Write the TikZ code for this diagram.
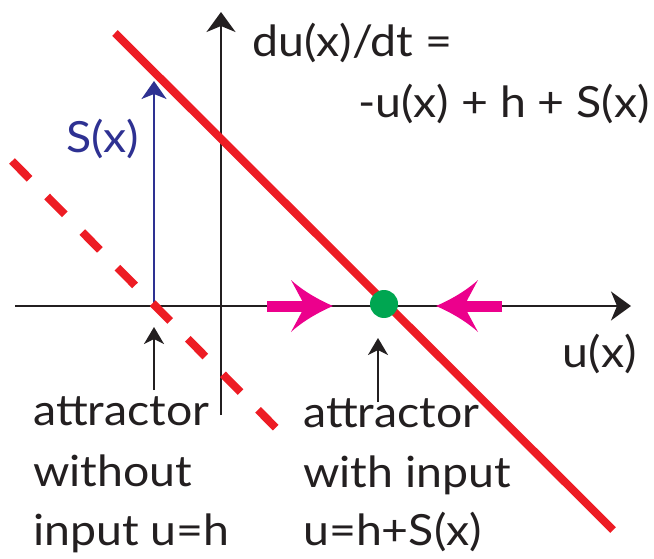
\documentclass[tikz,border=0pt]{standalone}
\usepackage{fontspec}
\setmainfont[FakeStretch=1.08]{Lato}
\usetikzlibrary{arrows.meta}
\definecolor{cred}{HTML}{ED1C24}
\definecolor{cmag}{HTML}{EC008C}
\definecolor{cgreen}{HTML}{00A651}
\definecolor{cblue}{HTML}{2E3192}
\definecolor{cblack}{HTML}{231F20}
\begin{document}
\begin{tikzpicture}[x=1pt,y=-1pt,
  txt/.style={font=\fontsize{43}{50}\selectfont, inner sep=0, anchor=base west, text=cblack},
  axisline/.style={draw=cblack, line width=2, -{Stealth[length=20,width=29,inset=6]}},
  pointer/.style={draw=cblack, line width=2, -{Stealth[length=17,width=20,inset=5]}},
  redline/.style={draw=cred, line width=8},
  reddash/.style={draw=cred, line width=8, dash pattern=on 25 off 25},
  blueline/.style={draw=cblue, line width=2, -{Stealth[length=18,width=25,inset=5]}},
  magshaft/.style={draw=cmag, line width=11},
  maghead/.pic={\fill[cmag] (0,0) .. controls (-14,-6) and (-30,-15) .. (-42,-26) -- (-31,-5.5) -- (-31,5.5) -- (-42,26) .. controls (-30,15) and (-14,6) .. (0,0) -- cycle;},
]
\useasboundingbox (0,0) rectangle (654,559);
% axes
\coordinate (hl) at (15,306);
\coordinate (hr) at (631,306);
\coordinate (vb) at (221,415);
\coordinate (vt) at (221,12);
\draw[axisline] (hl) -- (hr);
\draw[axisline] (vb) -- (vt);
% blue S(x) arrow
\coordinate (p0) at (154,306);
\coordinate (st) at (154,81);
\draw[blueline] (p0) -- (st);
\node[txt, text=cblue] (sx) at (66,153) {S(x)};
% red lines
\coordinate (r1) at (115,33);
\coordinate (r2) at (613,530);
\draw[redline] (r1) -- (r2);
\coordinate (d1) at (12,161);
\coordinate (d2) at (277,429);
\draw[reddash] (d1) -- (d2);
% magenta flow arrows
\coordinate (m1a) at (267,306);
\coordinate (m1b) at (303,306);
\draw[magshaft] (m1a) -- (m1b);
\pic at (333,306) {maghead};
\coordinate (m2a) at (502,306);
\coordinate (m2b) at (466,306);
\draw[magshaft] (m2a) -- (m2b);
\pic[rotate=180] at (436,306) {maghead};
% fixed point
\node[circle, fill=cgreen, minimum size=28, inner sep=0] (fp) at (384,304) {};
% equation
\node[txt] (eq1) at (252,57) {du(x)/dt =};
\node[txt, anchor=base east] (eq2) at (650,118) {-u(x) + h + S(x)};
\node[txt, anchor=base east] (ux) at (637,367) {u(x)};
% left annotation
\node[txt] (la) at (33,425) {attractor};
\node[txt] (lb) at (33,486) {without};
\node[txt] (lc) at (33,545) {input u=h};
\coordinate (la0) at (154,390);
\coordinate (la1) at (154,327);
\draw[pointer] (la0) -- (la1);
% right annotation
\node[txt] (ra) at (303,427) {attractor};
\node[txt] (rb) at (303,487) {with input};
\node[txt] (rc) at (303,545) {u=h+S(x)};
\coordinate (ra0) at (378,402);
\coordinate (ra1) at (378,338);
\draw[pointer] (ra0) -- (ra1);
\end{tikzpicture}
\end{document}
